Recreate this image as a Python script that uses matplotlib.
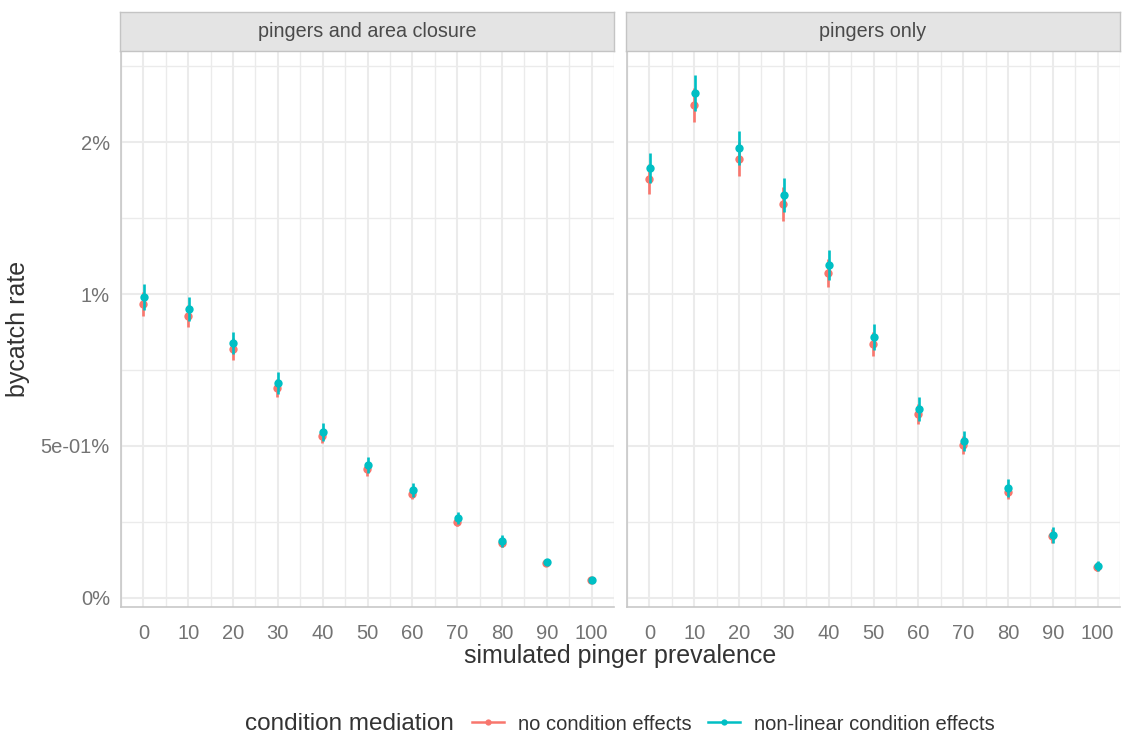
import numpy as np
import matplotlib.pyplot as plt
from matplotlib.lines import Line2D
from matplotlib.ticker import MultipleLocator

plt.rcParams['font.family'] = ['Liberation Sans', 'DejaVu Sans']

# simulated pinger prevalence (%)
prevalence = [0, 10, 20, 30, 40, 50, 60, 70, 80, 90, 100]
panels = ["pingers and area closure", "pingers only"]
series = ["no condition effects", "non-linear condition effects"]

# bycatch rate (%) estimates with lower / upper interval bounds
closure_none = [0.967, 0.928, 0.819, 0.691, 0.533, 0.424, 0.342, 0.250, 0.180, 0.116, 0.059]
closure_none_lo = [0.928, 0.892, 0.783, 0.661, 0.510, 0.401, 0.325, 0.237, 0.167, 0.106, 0.052]
closure_none_hi = [1.006, 0.964, 0.855, 0.721, 0.556, 0.447, 0.359, 0.263, 0.193, 0.126, 0.066]

closure_nonlin = [0.990, 0.951, 0.839, 0.707, 0.546, 0.438, 0.355, 0.263, 0.188, 0.118, 0.060]
closure_nonlin_lo = [0.947, 0.912, 0.803, 0.671, 0.516, 0.412, 0.332, 0.244, 0.168, 0.108, 0.053]
closure_nonlin_hi = [1.033, 0.990, 0.875, 0.743, 0.576, 0.464, 0.378, 0.282, 0.208, 0.128, 0.067]

only_none = [1.378, 1.622, 1.444, 1.296, 1.069, 0.836, 0.605, 0.503, 0.349, 0.204, 0.103]
only_none_lo = [1.329, 1.566, 1.388, 1.240, 1.023, 0.796, 0.572, 0.473, 0.326, 0.180, 0.088]
only_none_hi = [1.427, 1.678, 1.500, 1.352, 1.115, 0.876, 0.638, 0.533, 0.372, 0.228, 0.118]

only_nonlin = [1.414, 1.661, 1.480, 1.326, 1.095, 0.859, 0.622, 0.516, 0.362, 0.207, 0.105]
only_nonlin_lo = [1.365, 1.602, 1.424, 1.270, 1.046, 0.816, 0.583, 0.483, 0.332, 0.181, 0.089]
only_nonlin_hi = [1.463, 1.720, 1.536, 1.382, 1.144, 0.902, 0.661, 0.549, 0.392, 0.233, 0.121]

y_breaks = [0, 0.5, 1.0, 1.5]
y_labels = ["0%", "5e-01%", "1%", "2%"]

colors = ["#F8766D", "#00BFC4"]
tick_col = "#737373"
title_col = "#333333"

panel_data = [
    [(closure_none, closure_none_lo, closure_none_hi),
     (closure_nonlin, closure_nonlin_lo, closure_nonlin_hi)],
    [(only_none, only_none_lo, only_none_hi),
     (only_nonlin, only_nonlin_lo, only_nonlin_hi)],
]

W, H = 1122, 735
fig = plt.figure(figsize=(W / 100, H / 100), dpi=100)

lefts = [121, 627]
pw = 493
ptop, pbot = 51, 607
strip_top = 12

x = np.array(prevalence, dtype=float)
dodge = [-0.1, 0.1]

for i, name in enumerate(panels):
    ax = fig.add_axes([lefts[i] / W, 1 - pbot / H, pw / W, (pbot - ptop) / H])
    ax.set_xlim(-5, 105)
    ax.set_ylim(-0.03, 1.80)
    ax.set_xticks(prevalence)
    ax.xaxis.set_minor_locator(MultipleLocator(5))
    ax.set_yticks(y_breaks)
    ax.yaxis.set_minor_locator(MultipleLocator(0.25))
    ax.grid(which='major', color='#ebebeb', lw=1.5)
    ax.grid(which='minor', color='#ebebeb', lw=1.0)
    ax.set_axisbelow(True)
    for s in ['top', 'right']:
        ax.spines[s].set_visible(False)
    for s in ['left', 'bottom']:
        ax.spines[s].set_color('#c8c8c8')
        ax.spines[s].set_linewidth(1.2)
    ax.tick_params(which='both', length=0, labelsize=14.5, colors=tick_col)
    ax.tick_params(axis='x', pad=12)
    ax.tick_params(axis='y', pad=8)
    ax.set_xticklabels([str(v) for v in prevalence])
    if i == 0:
        ax.set_yticklabels(y_labels)
        ax.set_ylabel("bycatch rate", fontsize=18, color=title_col, labelpad=8)
    else:
        ax.set_yticklabels([])

    for j, (est, lo, hi) in enumerate(panel_data[i]):
        xs = x + dodge[j]
        ax.vlines(xs, lo, hi, color=colors[j], lw=1.9, zorder=3)
        ax.plot(xs, est, 'o', color=colors[j], ms=6.0, mew=0, zorder=3)

    # facet strip
    sax = fig.add_axes([(lefts[i] - 1) / W, 1 - ptop / H, (pw + 1) / W, (ptop - strip_top) / H])
    sax.set_facecolor('#e4e4e4')
    sax.set_xticks([])
    sax.set_yticks([])
    for s in sax.spines.values():
        s.set_color('#c4c4c4')
        s.set_linewidth(1.0)
    sax.text(0.5, 0.5, name, ha='center', va='center', fontsize=14.2,
             color='#4a4a4a', transform=sax.transAxes)

fig.text(620 / W, 1 - 656 / H, "simulated pinger prevalence", ha='center', va='center',
         fontsize=18, color=title_col)

# legend with its title to the left
fig.text(245 / W, 1 - 724 / H, "condition mediation", ha='left', va='center',
         fontsize=17.5, color=title_col)
handles = [Line2D([0], [0], color=c, lw=1.8, marker='o', ms=4.5, mew=0) for c in colors]
fig.legend(handles, series, loc='center left', bbox_to_anchor=(472 / W, 1 - 724 / H),
           ncol=2, frameon=False, fontsize=14.5, handlelength=1.6, handletextpad=0.7,
           columnspacing=0.8, labelcolor=title_col, borderaxespad=0, borderpad=0)

fig.savefig("out.png", dpi=100, facecolor='white')
